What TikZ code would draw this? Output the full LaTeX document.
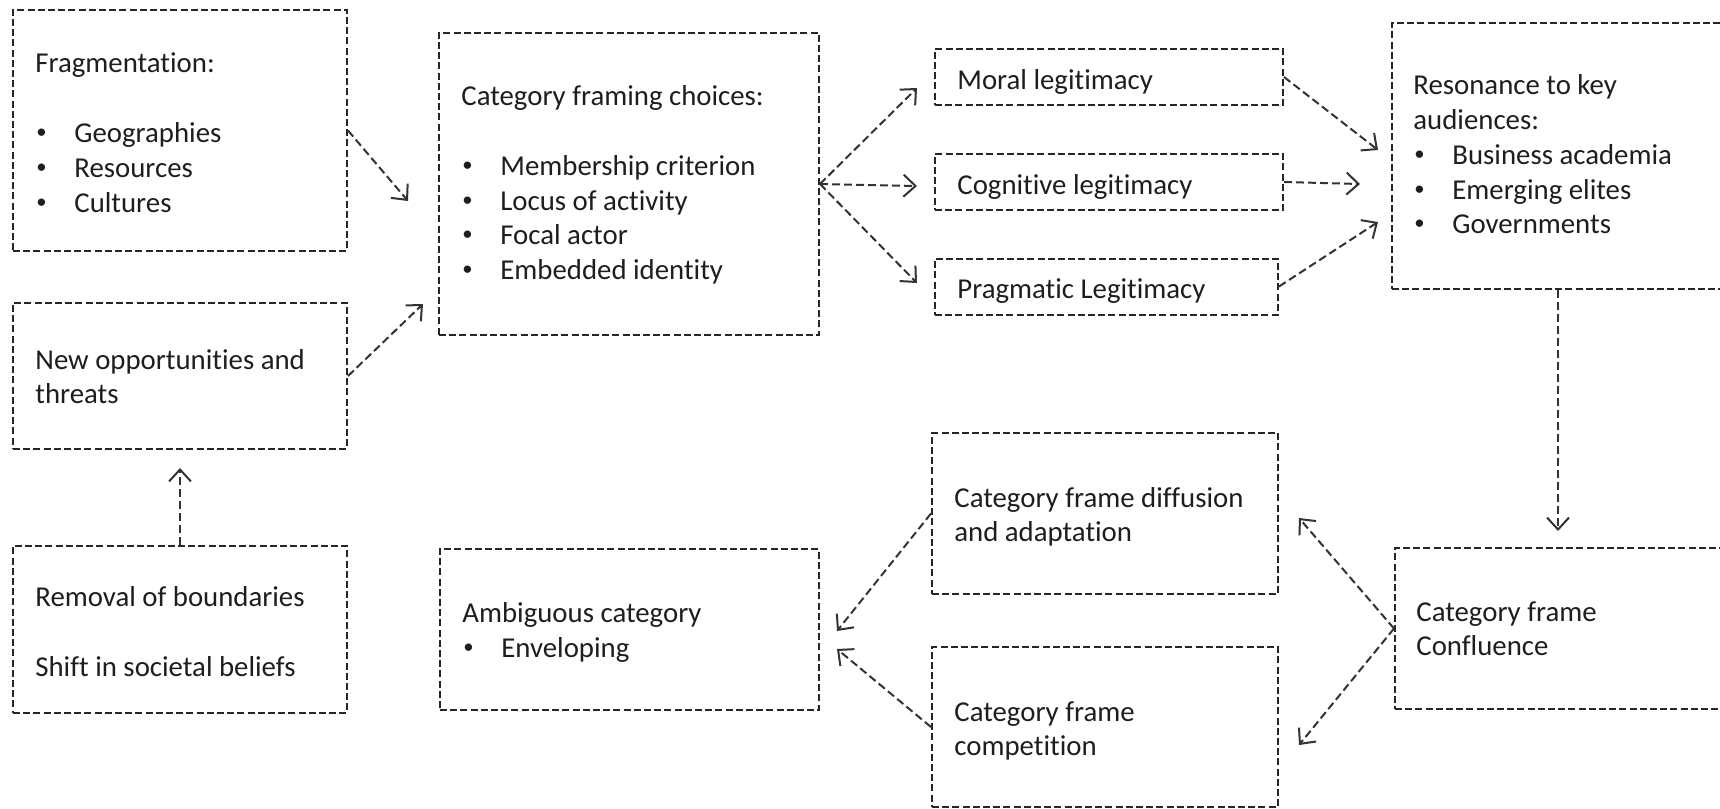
\documentclass[tikz,border=0pt]{standalone}
\usepackage{fontspec}
\setmainfont{Carlito}[Ligatures=NoCommon]
\usetikzlibrary{arrows.meta}
\definecolor{boxc}{HTML}{262626}
\definecolor{arrc}{HTML}{333333}
\definecolor{txtc}{HTML}{1E1E1E}
\newcommand{\bl}{\makebox[19.5pt][l]{\hspace{0.5pt}\raisebox{0.12em}{\scalebox{0.72}{\textbullet}}}}
\begin{document}
\begin{tikzpicture}[x=0.5pt,y=-0.5pt,
  box/.style={draw=boxc, rectangle, inner sep=0pt, line width=1pt, dash pattern=on 3.5pt off 1.6pt},
  arr/.style={draw=arrc, line width=1pt, dash pattern=on 4pt off 2pt, -{Straight Barb[length=6pt,width=11pt,line width=1pt]}},
  txt/.style={anchor=base west, inner sep=0pt, text=txtc, font=\fontsize{14.4}{17.5}\selectfont}]
\clip (0,0) rectangle (1720,809);
\fill[white] (0,0) rectangle (1720,809);
% boxes
\node[box, minimum width=167pt, minimum height=120.5pt] (frag) at (180,130.5) {};
\node[box, minimum width=167pt, minimum height=73pt] (opp) at (180,376) {};
\node[box, minimum width=167pt, minimum height=83.5pt] (rem) at (180,629.5) {};
\node[box, minimum width=190pt, minimum height=151pt] (cat) at (629,184) {};
\node[box, minimum width=174pt, minimum height=28pt] (moral) at (1109,77) {};
\node[box, minimum width=174pt, minimum height=28pt] (cog) at (1109,182) {};
\node[box, minimum width=171.5pt, minimum height=28pt] (prag) at (1106.5,286.5) {};
\node[box, minimum width=166pt, minimum height=133pt] (res) at (1558,156) {};
\node[box, minimum width=167.5pt, minimum height=80.5pt] (conf) at (1562.5,628.5) {};
\node[box, minimum width=173pt, minimum height=80.5pt] (diff) at (1105,513.5) {};
\node[box, minimum width=173pt, minimum height=80pt] (comp) at (1105,727) {};
\node[box, minimum width=189.5pt, minimum height=80.5pt] (amb) at (629.5,629.5) {};
% texts
\node[txt] (fragT1) at (35,72) {Fragmentation:};
\node[txt] (fragT2) at (35,142) {\bl Geographies};
\node[txt] (fragT3) at (35,177) {\bl Resources};
\node[txt] (fragT4) at (35,212) {\bl Cultures};
\node[txt] (oppT1) at (35,369) {New opportunities and};
\node[txt] (oppT2) at (35,403) {threats};
\node[txt] (remT1) at (35,606) {Removal of boundaries};
\node[txt] (remT2) at (35,676) {Shift in societal beliefs};
\node[txt] (catT1) at (461,105) {Category framing choices:};
\node[txt] (catT2) at (461,175) {\bl Membership criterion};
\node[txt] (catT3) at (461,210) {\bl Locus of activity};
\node[txt] (catT4) at (461,244) {\bl Focal actor};
\node[txt] (catT5) at (461,279) {\bl Embedded identity};
\node[txt] (moralT) at (957,89) {Moral legitimacy};
\node[txt] (cogT) at (957,194) {Cognitive legitimacy};
\node[txt] (pragT) at (957,298) {Pragmatic Legitimacy};
\node[txt] (resT1) at (1413,94) {Resonance to key};
\node[txt] (resT2) at (1413,129) {audiences:};
\node[txt] (resT3) at (1413,164) {\bl Business academia};
\node[txt] (resT4) at (1413,199) {\bl Emerging elites};
\node[txt] (resT5) at (1413,233) {\bl Governments};
\node[txt] (diffT1) at (954,507) {Category frame diffusion};
\node[txt] (diffT2) at (954,541) {and adaptation};
\node[txt] (compT1) at (954,721) {Category frame};
\node[txt] (compT2) at (954,755) {competition};
\node[txt] (confT1) at (1416,621) {Category frame};
\node[txt] (confT2) at (1416,655) {Confluence};
\node[txt] (ambT1) at (462,622) {Ambiguous category};
\node[txt] (ambT2) at (462,657) {\bl Enveloping};
% arrow ends
\coordinate (e1) at (408,201);
\coordinate (e2) at (423,304);
\coordinate (e3) at (180,468);
\coordinate (e4) at (917,88);
\coordinate (e5) at (917,186);
\coordinate (e6) at (917,283);
\coordinate (e7) at (1378,150);
\coordinate (e8) at (1360,184);
\coordinate (e9) at (1378,222);
\coordinate (e10) at (1558,531);
\coordinate (e11) at (1299,518);
\coordinate (e12) at (1299,745);
\coordinate (e13) at (837,631);
\coordinate (e14) at (837,649);
% connectors
\draw[arr] (frag.east) -- (e1);
\draw[arr] (opp.east) -- (e2);
\draw[arr] (rem.north) -- (e3);
\draw[arr] (cat.east) -- (e4);
\draw[arr] (cat.east) -- (e5);
\draw[arr] (cat.east) -- (e6);
\draw[arr] (moral.east) -- (e7);
\draw[arr] (cog.east) -- (e8);
\draw[arr] (prag.east) -- (e9);
\draw[arr] (res.south) -- (e10);
\draw[arr] (conf.west) -- (e11);
\draw[arr] (conf.west) -- (e12);
\draw[arr] (diff.west) -- (e13);
\draw[arr] (comp.west) -- (e14);
\end{tikzpicture}
\end{document}
